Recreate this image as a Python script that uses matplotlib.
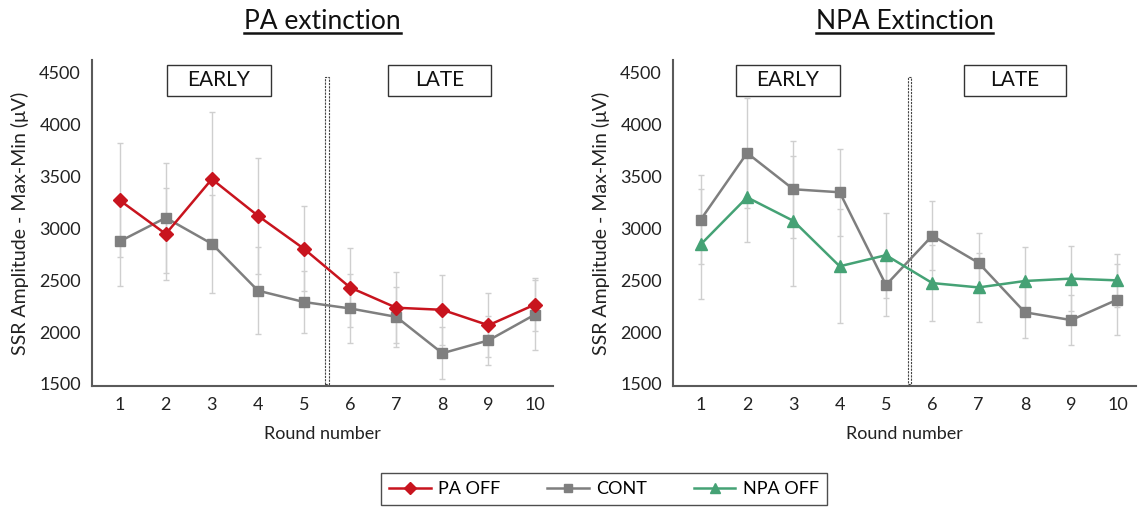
import matplotlib.pyplot as plt
from matplotlib.patches import Rectangle
from matplotlib.lines import Line2D

plt.rcParams['font.family'] = ['Lato', 'DejaVu Sans']

# ---- Data ----
rounds = [1, 2, 3, 4, 5, 6, 7, 8, 9, 10]

# PA extinction panel
pa_off = [3272, 2947, 3476, 3122, 2803, 2430, 2235, 2215, 2066, 2264]
pa_off_err = [550, 440, 650, 560, 410, 385, 340, 340, 310, 255]
cont_pa = [2875, 3103, 2852, 2400, 2290, 2228, 2147, 1796, 1920, 2167]
cont_pa_err = [430, 530, 470, 420, 300, 330, 290, 250, 240, 340]

# NPA extinction panel
cont_npa = [3086, 3728, 3378, 3349, 2454, 2930, 2668, 2191, 2116, 2314]
cont_npa_err = [430, 530, 470, 420, 300, 330, 290, 250, 240, 340]
npa_off = [2846, 3300, 3073, 2635, 2742, 2473, 2431, 2493, 2516, 2499]
npa_off_err = [530, 430, 630, 550, 410, 370, 330, 330, 310, 255]

titles = ['PA extinction', 'NPA Extinction']
yticks = [1500, 2000, 2500, 3000, 3500, 4000, 4500]

RED = '#C8141E'
GRAY = '#7F7F7F'
GREEN = '#45A275'
ERR = '#CFCFCF'
SPINE = '#5A5A5A'

fig = plt.figure(figsize=(11.42, 5.08), dpi=100)
W, H = 1142, 508


def px_axes(x0, x1, y0, y1):
    return fig.add_axes([x0 / W, 1 - y1 / H, (x1 - x0) / W, (y1 - y0) / H])


ax1 = px_axes(92, 553, 60, 386)
ax2 = px_axes(673, 1136, 60, 386)

series = {
    ax1: [(cont_pa, cont_pa_err, GRAY, 's', 7), (pa_off, pa_off_err, RED, 'D', 7.5)],
    ax2: [(cont_npa, cont_npa_err, GRAY, 's', 7), (npa_off, npa_off_err, GREEN, '^', 8)],
}

# EARLY / LATE box spans (x0, x1) per panel
boxes = {
    ax1: [(2.03, 4.28, 'EARLY'), (6.82, 9.06, 'LATE')],
    ax2: [(1.77, 4.00, 'EARLY'), (6.69, 8.89, 'LATE')],
}
boundary = 5.5

for ax, title in zip([ax1, ax2], titles):
    for vals, err, col, mk, ms in series[ax]:
        ax.errorbar(rounds, vals, yerr=err, fmt='none', ecolor=ERR,
                    elinewidth=1, capsize=2.5, capthick=1, zorder=1)
    for vals, err, col, mk, ms in series[ax]:
        ax.plot(rounds, vals, color=col, marker=mk, markersize=ms, lw=1.8, zorder=3)

    ax.set_xlim(0.4, 10.4)
    ax.set_ylim(1480, 4625)
    ax.set_xticks(rounds)
    ax.set_yticks(yticks)
    ax.tick_params(length=0, labelsize=13, pad=8, colors='#222222')
    for s in ['top', 'right']:
        ax.spines[s].set_visible(False)
    for s in ['left', 'bottom']:
        ax.spines[s].set_color(SPINE)
        ax.spines[s].set_linewidth(1.5)
    ax.set_xlabel('Round number', fontsize=13, color='#222222', labelpad=9)
    ax.set_ylabel('SSR Amplitude - Max-Min (μV)', fontsize=14, color='#222222', labelpad=7)

    # separator between early and late rounds
    ax.add_patch(Rectangle((boundary - 0.035, 1500), 0.07, 2960, fc='white',
                           ec='#444444', lw=0.8, ls=(0, (2, 1)), zorder=2))

    for x0, x1, label in boxes[ax]:
        ax.add_patch(Rectangle((x0, 4280), x1 - x0, 300, fc='white', ec='#333333',
                               lw=1.0, zorder=4, clip_on=False))
        ax.text((x0 + x1) / 2, 4430, label, ha='center', va='center',
                fontsize=15, color='#111111', zorder=5)

    ax.set_title(title, fontsize=19, pad=22, color='#111111')

# underline the titles
fig.canvas.draw()
r = fig.canvas.get_renderer()
for ax in [ax1, ax2]:
    bb = ax.title.get_window_extent(r)
    y = bb.y0 + 1
    fig.add_artist(Line2D([bb.x0 / W, bb.x1 / W], [y / H, y / H], color='#111111',
                          lw=1.8, transform=fig.transFigure))

handles = [
    Line2D([], [], color=RED, marker='D', markersize=6, lw=1.8),
    Line2D([], [], color=GRAY, marker='s', markersize=6, lw=1.8),
    Line2D([], [], color=GREEN, marker='^', markersize=7, lw=1.8),
]
leg = fig.legend(handles, ['PA OFF', 'CONT', 'NPA OFF'], ncol=3, loc='center',
                 bbox_to_anchor=(604 / W, 1 - 489 / H), fontsize=13,
                 frameon=True, fancybox=False, edgecolor='#222222',
                 handlelength=2.3, handletextpad=0.4, columnspacing=2.6,
                 borderpad=0.45)
leg.get_frame().set_linewidth(1.0)

fig.savefig('out.png', dpi=100)
